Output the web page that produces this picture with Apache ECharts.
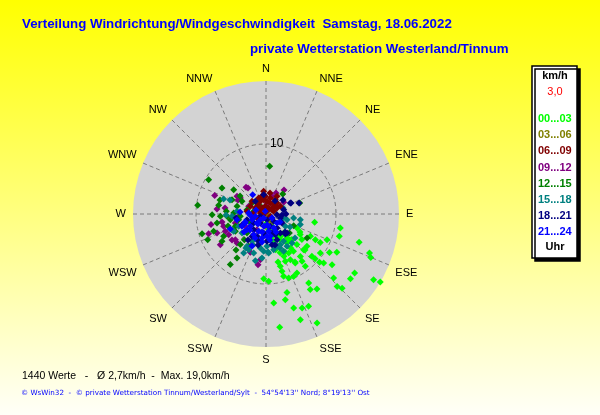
<!DOCTYPE html>
<html>
<head>
<meta charset="utf-8">
<script src="https://cdn.jsdelivr.net/npm/echarts@6/dist/echarts.min.js"></script>
<style>html,body{margin:0;padding:0;}#c{width:600px;height:415px;}</style>
</head>
<body>
<div id="c"></div>
<script>
// Compass tick labels (angle axis, every 22.5 degrees, clockwise from north)
var directions = ['N','NNE','NE','ENE','E','ESE','SE','SSE','S','SSW','SW','WSW','W','WNW','NW','NNW'];
// Hour groups (legend) and their colours
var hourGroups = ['00...03','03...06','06...09','09...12','12...15','15...18','18...21','21...24'];
var groupColors = ['#00ff00','#808000','#800000','#800080','#008000','#008080','#000080','#0000ff'];

// Each point: [speed km/h, direction degrees]
var h0003 = [[7.05,99.7],[10.8,100.7],[10.95,106.9],[13.9,106.9],[15.8,110.6],[16.2,112.5],[18.0,121.4],[19.0,120.8],
 [15.2,127.5],[15.2,123.6],[15.2,134.3],[14.5,135.5],[13.3,133.4],[11.9,127.5],[10.8,130.3],[11.5,118.4],[10.6,121.2],
 [9.45,112.8],[8.75,117.6],[7.95,117.5],[7.1,116.7],[6.3,125.5],[5.7,121],[6.2,134.7],[6.6,143.5],[6.45,149.8],[7.4,151.9],
 [7.3,157.8],[8.16,149.1],[8.5,142.7],[9.35,143.1],[9.5,152.3],[9.75,156.1],[9.7,160.5],[9.25,164.2],[8.5,164.4],[7.75,164.7],
 [9.25,182],[9.63,177.7],[11.6,165],[12.55,167.3],[14.0,163.6],[14.4,159],[14.5,155.2],[15.9,162],[17.2,154.9],[16.3,173.1],
 [12.75,175],[12.5,149.6],[12.95,145.8],[11.6,148.3],[9.5,132.4],[10.3,132],[9.55,125.7],[8.9,132.6],[7.45,128.3],[7.4,133.5],
 [4.9,161.2],[4.05,164.3],[3.8,147.3],[4.2,134.5],[5.2,134.7],[4.86,114.3],[2.3,170],[1.95,154],[3.1,150],[5.1,144],[6.55,157],
 [5.9,160],[5.3,165],[6.0,144],[7.8,141],[3.3,165],[1.3,174],[3.56,153.8],[2.93,157.9],[4.2,150.8],[3.72,170.4],[3.7,137.1],[4.56,138.8],
 [5.05,137.2],[5.5,117.9],[6.07,153.5],[7.58,132.7],[7.07,166],[8.01,148.9]];
var h0306 = [[0.5,131],[1.0,215],[1.43,154],[1.76,183],[0.8,250],[1.2,300]];
var h0609 = [[2.03,320.6],[1.98,335.9],[2.08,350.8],[1.82,4.4],[1.69,21.5],[1.55,45],[1.79,61.3],[1.06,54.2],[0.94,23.8],
 [1.1,355],[1.03,326.5],[1.22,300.6],[1.75,299.5],[1.77,274.5],[0.82,280],[0.4,20],[1.16,71],[2.22,45],[2.44,33],[2.37,15.1],
 [2.52,357.7],[2.52,335.4],[2.7,312.1],[2.49,296.1],[2.74,278],[2.33,61.8],[0.35,253],[1.41,246],[0.7,118],[2.03,260.6],
 [3.26,354],[2.97,32],[2.63,347.5],[3.05,10.8],[1.72,318.5],[1.83,51.4]];
var h0912 = [[7.79,289.7],[7.04,275.8],[8.0,259.3],[8.66,251.1],[6.3,253.8],[6.09,241],[7.86,236.1],[5.71,230],[5.86,225],
 [4.76,323.1],[4.85,301.3],[4.32,302],[3.32,25.5],[3.03,56.5],[7.33,189],[6.57,187.1],[5.92,202.2],[4.82,204.5],[3.92,265.2],
 [4.57,253.6],[1.92,35],[1.58,5.2],[0.92,339],[6.32,246.9],[7.51,248.8],[1.8,257],[2.58,210],[2.71,294],[2.67,18.9],[3.44,239],
 [5.92,278.3],[4.47,296.6],[6.11,232.6],[6.39,259.7],[4.51,325.3],[4.29,36.9]];
var h1215 = [[6.83,4.4],[9.55,300.9],[7.3,300.5],[5.78,307],[9.84,277.2],[6.87,280.4],[6.53,267.1],[7.12,259.6],[9.56,252.9],
 [9.1,246.2],[7.88,251.7],[7.4,238.2],[6.84,242.2],[8.85,215.2],[7.53,213.4],[4.72,248.1],[3.68,264.9],[3.84,225],[4.8,220.2],
 [5.71,220],[3.72,39.8],[5.06,71.9],[4.29,112.9],[4.3,129.1],[6.79,120.3],[5.27,292.9],[5.58,266.6],[5.68,273.8],[4.28,284.9],
 [3.88,297.8],[2.54,308.1],[5.16,261],[5.03,240.5],[5.24,208.2],[1.8,283],[1.37,323.6],[2.78,282.9],[2.58,240],[4.62,271.7],[3.99,258.3],
 [6.87,286.9],[5.69,252.5],[4.51,304.7],[7.7,269.3],[6.7,219.8]];
var h1518 = [[6.42,289.5],[4.87,266.1],[6.42,209.8],[5.67,205.9],[5.84,197.5],[6.84,192.8],[4.38,207.1],[5.36,210.4],[4.93,189.5],
 [5.34,183.5],[5.58,176.1],[5.21,167.8],[4.88,161.2],[5.9,154.7],[5.51,147],[5.56,138.1],[4.65,147.1],[4.84,154.9],[4.52,165.9],
 [4.62,178.3],[4.22,191.1],[4.37,231.7],[4.28,245.7],[5.24,241.8],[4.97,99.4],[5.13,107.2],[3.11,105.1],[3.99,98.2],[4.16,275.2],
 [3.27,122.5],[3.89,199.4],[2.58,70.5],[2.5,103.2],[3.9,118.5],[4.8,202.8],[5.64,210.5],[5.44,177],[5.25,157.6],[5.37,244.8],
 [5.71,268.6],[5.52,291.3],[5.38,129.6],[6.31,185.2]];
var h1821 = [[3.82,65.7],[2.86,90],[3.97,136],[3.4,142.9],[2.78,353.2],[2.54,141.9],[1.87,160.6],[2.73,187],[3.44,202],[2.85,218.2],
 [1.52,212],[0.82,170],[1.52,133.7],[2.13,105.5],[2.6,76.2],[4.04,195],[3.9,178],[3.99,156.8],[2.85,162.4],[2.18,233.8],[2.83,253.4],
 [0.88,248],[1.57,93.6],[2.62,119.4],[3.77,212],[3.24,155.7],[4.46,168.9],[4.04,132],[2.37,320],
 [3.9,66.3],[4.97,71.6],[3.15,50.5],[2.26,34.7],[2.29,93.5],[3.0,182.7],[4.57,194.4],[4.52,214.7],[3.77,245.4],[4.61,163.8],
 [3.74,133.5],[4.32,262.4]];
var h2124 = [[3.35,325.5],[1.82,225],[1.79,189.6],[2.85,231.8],[3.52,230.4],[3.43,210.8],[3.48,189.4],[2.51,171.3],[2.28,151.2],
 [1.53,174.7],[1.15,225],[2.16,248],[3.22,246.4],[3.86,242.8],[2.69,202.9],[3.25,169],[1.56,257.8],[0.66,210],[1.03,123.5],
 [2.03,129.4],[5.53,247.2],[4.22,259],[3.19,177.5],[2.48,273],[0.4,345],
 [3.21,249.2],[3.23,225],[3.77,204.6],[4.04,188.1],[3.76,171.2],[2.94,150.9],[1.74,170.4],[1.83,218.6],[2.29,266.5],[3.72,274.5],
 [2.63,192.5],[2.3,119.7],[1.03,123.5],[1.54,291.8],[4.06,230.7],[4.99,203.6]];
// radius axis: range 0..19 km/h, one labelled ring at 10
var radiusMax = 19;
var radiusRings = [10];

var chart = echarts.init(document.getElementById('c'), null, {renderer: 'canvas'});

var groupData = [h0003, h0306, h0609, h0912, h1215, h1518, h1821, h2124];
// stacking order of the point groups (first drawn = bottom)
var drawOrder = [0, 1, 3, 4, 5, 2, 6, 7];
var series = drawOrder.map(function (i) {
  return {
    name: hourGroups[i],
    type: 'scatter',
    coordinateSystem: 'polar',
    symbol: 'diamond',
    symbolSize: 7,
    z: 5,
    itemStyle: {color: groupColors[i], opacity: 1},
    emphasis: {disabled: true},
    data: groupData[i]
  };
});

var dash = {color: '#7a7a7a', width: 1, type: [4, 3]};
var option = {
  animation: false,
  backgroundColor: {type: 'linear', x: 0, y: 0, x2: 0, y2: 1,
    colorStops: [{offset: 0, color: '#ffff00'}, {offset: 1, color: '#fffff8'}]},
  textStyle: {fontFamily: 'Liberation Sans'},
  polar: {center: [266, 214], radius: 133},
  angleAxis: {
    type: 'value', min: 0, max: 360, interval: 22.5, startAngle: 90, clockwise: true, z: 2,
    axisLine: {show: false}, axisTick: {show: false},
    axisLabel: {
      margin: 7, color: '#000', fontSize: 11, fontFamily: 'Liberation Sans',
      formatter: function (v) { var k = Math.round(v / 22.5); return k < 16 ? directions[k] : ''; }
    },
    splitLine: {show: true, lineStyle: dash}
  },
  radiusAxis: {
    type: 'value', min: 0, max: radiusMax, z: 2,
    axisLine: {show: false},
    axisTick: {show: false, customValues: radiusRings},
    axisLabel: {
      color: '#000', fontSize: 12, margin: -4, align: 'left', verticalAlign: 'middle', customValues: radiusRings,
      formatter: function (v) { return String(v); }
    },
    splitLine: {show: true, lineStyle: dash}
  },
  title: [
    {text: 'Verteilung Windrichtung/Windgeschwindigkeit  Samstag, 18.06.2022', left: 22, top: 18, padding: 0,
      textStyle: {color: '#0000ff', fontSize: 13.3, fontWeight: 'bold', fontFamily: 'Liberation Sans'}},
    {text: 'private Wetterstation Westerland/Tinnum', left: 250, top: 43, padding: 0,
      textStyle: {color: '#0000ff', fontSize: 13.3, fontWeight: 'bold', fontFamily: 'Liberation Sans'}},
    {text: '1440 Werte   -   \u00d8 2,7km/h  -  Max. 19,0km/h', left: 22, top: 371, padding: 0,
      textStyle: {color: '#000', fontSize: 10.5, fontWeight: 'normal', fontFamily: 'Liberation Sans'}},
    {text: '\u00a9 WsWin32  -  \u00a9 private Wetterstation Tinnum/Westerland/Sylt  -  54\u00b054\'13\'\' Nord; 8\u00b019\'13\'\' Ost', left: 21, top: 390, padding: 0,
      textStyle: {color: '#0000ff', fontSize: 7.2, fontWeight: 'normal', fontFamily: 'DejaVu Sans'}}
  ],
  legend: {
    orient: 'vertical', left: 533, top: 112, padding: 0, itemGap: 2.2, itemWidth: 0, itemHeight: 14, icon: 'rect',
    selectedMode: false, z: 10,
    textStyle: {fontSize: 11, fontWeight: 'bold', fontFamily: 'Liberation Sans'},
    data: hourGroups.map(function (g, i) { return {name: g, textStyle: {color: groupColors[i]}}; })
  },
  graphic: [
    {type: 'circle', shape: {cx: 266, cy: 214, r: 133}, z: -10, silent: true,
      style: {fill: '#d3d3d3', stroke: null}},
    {type: 'rect', shape: {x: 532, y: 66, width: 45, height: 192}, z: 1,
      style: {fill: '#ffffff', stroke: '#000', lineWidth: 1.5, shadowColor: '#000', shadowOffsetX: 3, shadowOffsetY: 3, shadowBlur: 0}},
    {type: 'text', x: 555, y: 76, z: 5, style: {text: 'km/h', fill: '#000', font: 'bold 11px Liberation Sans', textAlign: 'center', textVerticalAlign: 'middle'}},
    {type: 'text', x: 555, y: 92, z: 5, style: {text: '3,0', fill: '#ff0000', font: '11px Liberation Sans', textAlign: 'center', textVerticalAlign: 'middle'}},
    {type: 'text', x: 555, y: 247, z: 5, style: {text: 'Uhr', fill: '#000', font: 'bold 11px Liberation Sans', textAlign: 'center', textVerticalAlign: 'middle'}}
  ],
  series: series
};
chart.setOption(option);
</script>
</body>
</html>
